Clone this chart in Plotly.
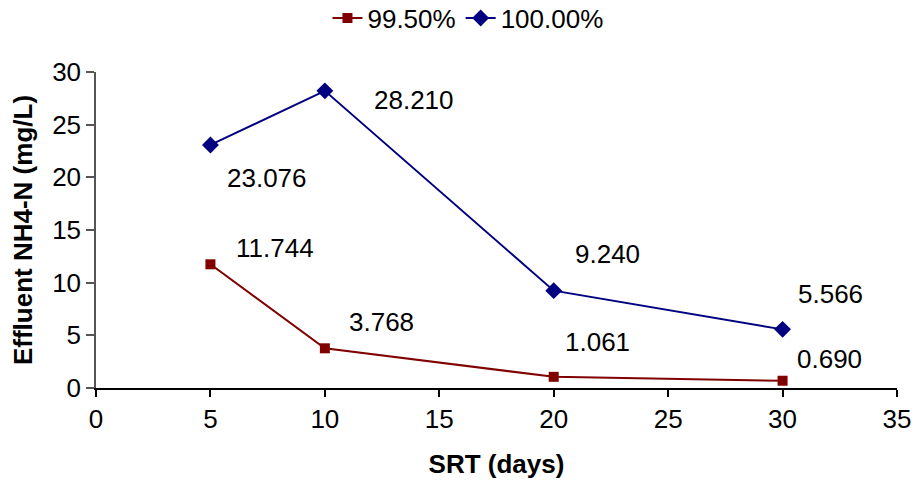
import plotly.graph_objects as go

# SRT (days) and effluent NH4-N for two removal levels
srt_days = [5, 10, 20, 30]
nh4_995 = [11.744, 3.768, 1.061, 0.690]
nh4_1000 = [23.076, 28.210, 9.240, 5.566]
series_names = ["99.50%", "100.00%"]

# label offsets (pixels) for each data label
shift_995 = [(65, 16), (57, 26), (44, 35), (47, 22)]
shift_1000 = [(57, -33), (89, -9), (54, 37), (48, 35)]

FONT = "Liberation Sans, Arial, sans-serif"
SIZE = 26
RED = "#800000"
BLUE = "#000080"

fig = go.Figure()
fig.add_trace(go.Scatter(
    x=srt_days, y=nh4_995, name=series_names[0], mode="lines+markers",
    line=dict(color=RED, width=2),
    marker=dict(symbol="square", size=10, color=RED),
))
fig.add_trace(go.Scatter(
    x=srt_days, y=nh4_1000, name=series_names[1], mode="lines+markers",
    line=dict(color=BLUE, width=2),
    marker=dict(symbol="diamond", size=13, color=BLUE),
))

annotations = []
for xs, ys, shifts in ((srt_days, nh4_995, shift_995), (srt_days, nh4_1000, shift_1000)):
    for xv, yv, (dx, dy) in zip(xs, ys, shifts):
        annotations.append(dict(
            x=xv, y=yv, xref="x", yref="y", text=f"{yv:.3f}", showarrow=False,
            xshift=dx, yshift=dy, font=dict(family=FONT, size=SIZE, color="black"),
        ))

fig.update_layout(
    width=923, height=491,
    margin=dict(l=96, r=21, t=72, b=103),
    paper_bgcolor="white", plot_bgcolor="white",
    font=dict(family=FONT, size=SIZE, color="black"),
    showlegend=True,
    legend=dict(orientation="h", x=0.507, xanchor="center", y=0.963, yanchor="middle",
                xref="container", yref="container", font=dict(family=FONT, size=SIZE),
                itemwidth=30, tracegroupgap=0, borderwidth=0),
    annotations=annotations,
    xaxis=dict(
        range=[0, 35], tickvals=[0, 5, 10, 15, 20, 25, 30, 35],
        showline=True, linecolor="black", linewidth=1.5,
        ticks="outside", ticklen=7, tickcolor="black", tickwidth=1.5,
        showgrid=False, zeroline=False,
        title=dict(text="<b>SRT (days)</b>", font=dict(family=FONT, size=SIZE), standoff=22),
    ),
    yaxis=dict(
        range=[0, 30], tickvals=[0, 5, 10, 15, 20, 25, 30],
        showline=True, linecolor="#555555", linewidth=1.5,
        ticks="outside", ticklen=8, tickcolor="#555555", tickwidth=1.5,
        showgrid=False, zeroline=False,
        title=dict(text="<b>Effluent NH4-N (mg/L)</b>", font=dict(family=FONT, size=SIZE), standoff=12),
    ),
)

fig.write_html("out.html")
